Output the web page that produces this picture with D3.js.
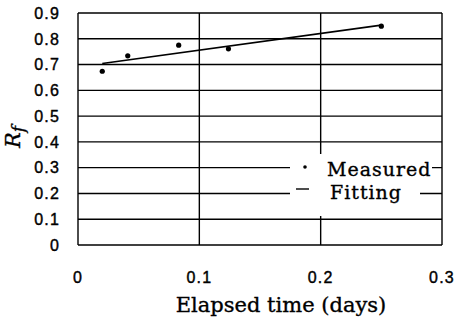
<!DOCTYPE html>
<html>
<head>
<meta charset="utf-8">
<script src="https://cdn.jsdelivr.net/npm/d3@7/dist/d3.min.js"></script>
<style>
html,body{margin:0;padding:0;background:#fff;}
svg{display:block;}
</style>
</head>
<body>
<svg id="chart" width="458" height="325"></svg>
<script>
// ---- data ----
const measuredX = [0.02, 0.041, 0.083, 0.124, 0.25];
const measuredY = [0.674, 0.734, 0.775, 0.761, 0.849];
const fitX = [0.02, 0.25];
const fitY = [0.704, 0.853];
const xTicks = [0, 0.1, 0.2, 0.3];
const xTickLabels = ["0", "0.1", "0.2", "0.3"];
const yTicks = [0, 0.1, 0.2, 0.3, 0.4, 0.5, 0.6, 0.7, 0.8, 0.9];
const yTickLabels = ["0", "0.1", "0.2", "0.3", "0.4", "0.5", "0.6", "0.7", "0.8", "0.9"];
const legendLabels = ["Measured", "Fitting"];

const svg = d3.select("#chart");
const L = 78, R = 442, T = 13, B = 245;
const x = d3.scaleLinear().domain([0, 0.3]).range([L, R]);
const y = d3.scaleLinear().domain([0, 0.9]).range([B, T]);

const grid = svg.append("g").attr("stroke", "#000").attr("stroke-width", 1.4).attr("fill", "none");
grid.selectAll("line.h").data(yTicks).join("line")
  .attr("x1", L).attr("x2", R)
  .attr("y1", d => y(d)).attr("y2", d => y(d));
grid.selectAll("line.v").data(xTicks).join("line")
  .attr("x1", d => x(d)).attr("x2", d => x(d))
  .attr("y1", T).attr("y2", B);

const sans = "Liberation Sans, Arial, sans-serif";
const serif = "DejaVu Serif, serif";

// y tick labels
svg.append("g").selectAll("text").data(yTicks).join("text")
  .attr("x", 60).attr("y", d => y(d)).attr("dy", "0.36em")
  .attr("text-anchor", "end")
  .attr("font-family", sans)
  .attr("font-size", 16).attr("letter-spacing", 1.2)
  .attr("stroke", "#000").attr("stroke-width", 0.4)
  .text((d, i) => yTickLabels[i]);

// x tick labels
svg.append("g").selectAll("text").data(xTicks).join("text")
  .attr("x", d => x(d)).attr("y", 283)
  .attr("text-anchor", "middle")
  .attr("font-family", sans)
  .attr("font-size", 16).attr("letter-spacing", 1.2)
  .attr("stroke", "#000").attr("stroke-width", 0.4)
  .text((d, i) => xTickLabels[i]);

// fit line
const line = d3.line().x(d => x(d[0])).y(d => y(d[1]));
svg.append("path").datum(fitX.map((v, i) => [v, fitY[i]]))
  .attr("d", line).attr("fill", "none").attr("stroke", "#000").attr("stroke-width", 1.6);

// measured points
svg.append("g").selectAll("circle").data(measuredX.map((v, i) => [v, measuredY[i]])).join("circle")
  .attr("cx", d => x(d[0])).attr("cy", d => y(d[1])).attr("r", 2.6).attr("fill", "#000");

// legend
const lg = svg.append("g");
lg.append("rect").attr("x", 290).attr("y", 154).attr("width", 142).attr("height", 27).attr("fill", "#fff");
lg.append("rect").attr("x", 290).attr("y", 180).attr("width", 130).attr("height", 36).attr("fill", "#fff");
lg.append("circle").attr("cx", 305).attr("cy", 167).attr("r", 1.8).attr("fill", "#000");
lg.append("line").attr("x1", 296).attr("x2", 309).attr("y1", 189).attr("y2", 189)
  .attr("stroke", "#000").attr("stroke-width", 1.4);
lg.selectAll("text").data(legendLabels).join("text")
  .attr("x", (d, i) => i === 0 ? 327 : 330)
  .attr("y", (d, i) => i === 0 ? 176 : 199)
  .attr("font-family", serif).attr("font-size", 19).attr("letter-spacing", 1)
  .attr("stroke", "#000").attr("stroke-width", 0.35)
  .text(d => d);

// axis titles
svg.append("text").attr("x", 281).attr("y", 312).attr("text-anchor", "middle")
  .attr("font-family", serif).attr("font-size", 21)
  .attr("stroke", "#000").attr("stroke-width", 0.35)
  .text("Elapsed time (days)");

const yt = svg.append("text").attr("transform", "translate(20,137) rotate(-90)")
  .attr("text-anchor", "middle")
  .attr("font-family", serif).attr("font-style", "italic").attr("font-size", 21)
  .attr("stroke", "#000").attr("stroke-width", 0.35);
yt.append("tspan").text("R");
yt.append("tspan").attr("dy", 4).attr("font-size", 17).text("f");
</script>
</body>
</html>
